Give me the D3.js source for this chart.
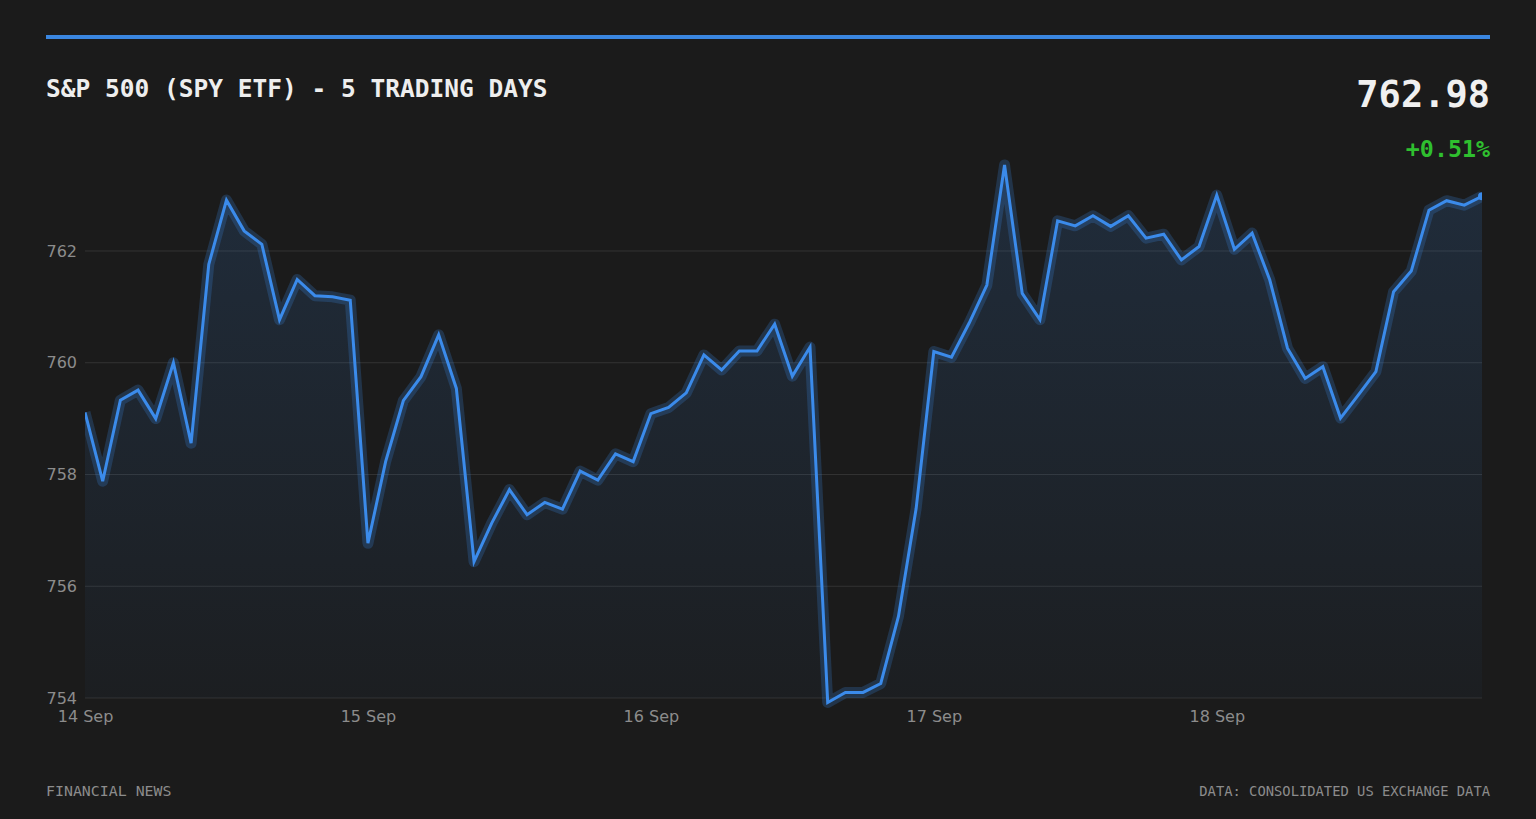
<!DOCTYPE html>
<html>
<head>
<meta charset="utf-8">
<script src="https://cdn.jsdelivr.net/npm/d3@7"></script>
<style>
  html, body { margin: 0; padding: 0; background: #1b1b1b; }
  svg { display: block; }
  .mono { font-family: 'DejaVu Sans Mono', monospace; }
  .axis text { font-family: 'DejaVu Sans', sans-serif; font-size: 16px; fill: #8c8c8c; }
  .axis path, .axis line { display: none; }
</style>
</head>
<body>
<svg id="chart"></svg>
<script>
const title = 'S&P 500 (SPY ETF) - 5 TRADING DAYS';
const lastPrice = '762.98';
const changeText = '+0.51%';
const footLeft = 'FINANCIAL NEWS';
const footRight = 'DATA: CONSOLIDATED US EXCHANGE DATA';

// 16 samples per trading day
const dayLabels = ['14 Sep', '15 Sep', '16 Sep', '17 Sep', '18 Sep'];
const dayTicks = [0, 16, 32, 48, 64];
const yTicks = [754, 756, 758, 760, 762];
const yDomain = [754, 763.8];

const prices = [
  759.11, 757.88, 759.33, 759.51, 759.00, 760.00, 758.56, 761.76,
  762.91, 762.36, 762.12, 760.77, 761.49, 761.20, 761.18, 761.12,
  756.77, 758.23, 759.32, 759.75, 760.50, 759.54, 756.44, 757.13,
  757.73, 757.28, 757.50, 757.38, 758.06, 757.90, 758.37, 758.23,
  759.09, 759.20, 759.46, 760.14, 759.87, 760.21, 760.21, 760.69,
  759.76, 760.28, 753.92, 754.10, 754.10, 754.26, 755.46, 757.39,
  760.20, 760.10, 760.71, 761.39, 763.54, 761.24, 760.77, 762.54,
  762.45, 762.63, 762.44, 762.63, 762.23, 762.30, 761.84, 762.08,
  763.00, 762.03, 762.32, 761.48, 760.26, 759.72, 759.93, 759.01,
  759.42, 759.84, 761.27, 761.64, 762.73, 762.90, 762.82, 762.98
];

const w = 1536;
const h = 819;
const margin = { top: 150.4, right: 54, bottom: 121, left: 85 };
const blue = '#3b8beb';

const svg = d3.select('#chart')
  .attr('width', w)
  .attr('height', h);

svg.append('rect')
  .attr('width', w)
  .attr('height', h)
  .attr('fill', '#1b1b1b');

// top accent bar
svg.append('rect')
  .attr('x', 46)
  .attr('y', 35)
  .attr('width', 1444)
  .attr('height', 4)
  .attr('fill', '#3a86e0');

svg.append('text')
  .attr('class', 'mono')
  .attr('x', 46)
  .attr('y', 97)
  .attr('font-size', 24.5)
  .attr('font-weight', 'bold')
  .attr('fill', '#eeeeee')
  .text(title);

svg.append('text')
  .attr('class', 'mono')
  .attr('x', 1490)
  .attr('y', 107)
  .attr('text-anchor', 'end')
  .attr('font-size', 37)
  .attr('font-weight', 'bold')
  .attr('fill', '#f0f0f0')
  .text(lastPrice);

svg.append('text')
  .attr('class', 'mono')
  .attr('x', 1490)
  .attr('y', 157)
  .attr('text-anchor', 'end')
  .attr('font-size', 23.3)
  .attr('font-weight', 'bold')
  .attr('fill', '#2fbf2f')
  .text(changeText);

const xScale = d3.scaleLinear()
  .domain([0, prices.length - 1])
  .range([margin.left, w - margin.right]);
const yScale = d3.scaleLinear()
  .domain(yDomain)
  .range([h - margin.bottom, margin.top]);

// grid
svg.append('g')
  .selectAll('line')
  .data(yTicks)
  .enter()
  .append('line')
  .attr('x1', margin.left)
  .attr('x2', w - margin.right)
  .attr('y1', (d) => yScale(d))
  .attr('y2', (d) => yScale(d))
  .attr('stroke', '#333333')
  .attr('stroke-width', 1);

svg.append('g')
  .attr('class', 'axis')
  .attr('transform', `translate(${margin.left}, 0)`)
  .call(d3.axisLeft(yScale).tickValues(yTicks).tickSize(0).tickPadding(8).tickFormat(d3.format('d')));

svg.append('g')
  .attr('class', 'axis')
  .attr('transform', `translate(0, ${h - margin.bottom})`)
  .call(d3.axisBottom(xScale).tickValues(dayTicks).tickSize(0).tickPadding(13)
    .tickFormat((d, i) => dayLabels[i]));

const defs = svg.append('defs');
const grad = defs.append('linearGradient')
  .attr('id', 'fillGrad')
  .attr('gradientUnits', 'userSpaceOnUse')
  .attr('x1', 0).attr('x2', 0)
  .attr('y1', margin.top).attr('y2', h - margin.bottom);
grad.append('stop').attr('offset', '0%').attr('stop-color', blue).attr('stop-opacity', 0.16);
grad.append('stop').attr('offset', '100%').attr('stop-color', blue).attr('stop-opacity', 0.03);

defs.append('clipPath')
  .attr('id', 'plotClip')
  .append('rect')
  .attr('x', margin.left)
  .attr('y', 0)
  .attr('width', w - margin.left - margin.right)
  .attr('height', h);

const plot = svg.append('g').attr('clip-path', 'url(#plotClip)');

const area = d3.area()
  .x((d, i) => xScale(i))
  .y0(h - margin.bottom)
  .y1((d) => yScale(d));
const line = d3.line()
  .x((d, i) => xScale(i))
  .y((d) => yScale(d));

plot.append('path')
  .datum(prices)
  .attr('d', area)
  .attr('fill', 'url(#fillGrad)');

// soft glow under the line
plot.append('path')
  .datum(prices)
  .attr('d', line)
  .attr('fill', 'none')
  .attr('stroke', blue)
  .attr('stroke-opacity', 0.22)
  .attr('stroke-width', 11)
  .attr('stroke-linejoin', 'round');

plot.append('path')
  .datum(prices)
  .attr('d', line)
  .attr('fill', 'none')
  .attr('stroke', blue)
  .attr('stroke-width', 3)
  .attr('stroke-linejoin', 'miter');

plot.append('circle')
  .attr('cx', xScale(prices.length - 1))
  .attr('cy', yScale(prices[prices.length - 1]))
  .attr('r', 4)
  .attr('fill', blue);

svg.append('text')
  .attr('class', 'mono')
  .attr('x', 46)
  .attr('y', 796)
  .attr('font-size', 14.9)
  .attr('fill', '#8c8c8c')
  .text(footLeft);

svg.append('text')
  .attr('class', 'mono')
  .attr('x', 1490)
  .attr('y', 796)
  .attr('text-anchor', 'end')
  .attr('font-size', 13.8)
  .attr('fill', '#8c8c8c')
  .text(footRight);
</script>
</body>
</html>
